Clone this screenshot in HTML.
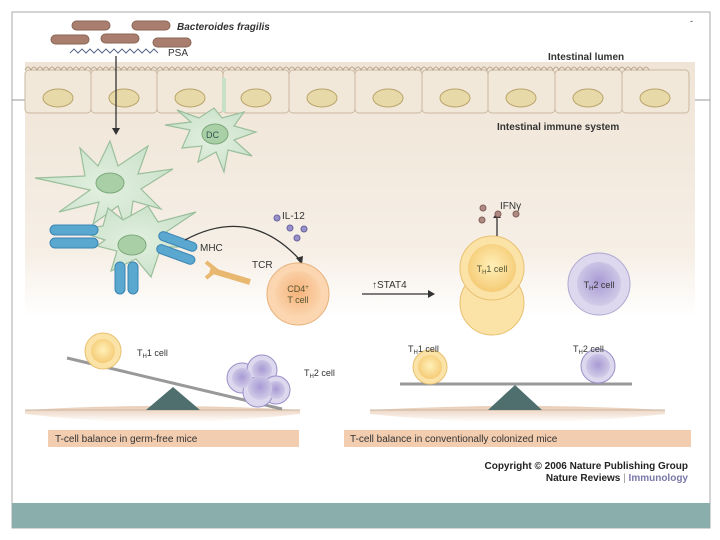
<!DOCTYPE html>
<html><head><meta charset="utf-8"><style>
html,body{margin:0;padding:0;background:#fff;width:720px;height:540px;overflow:hidden}
svg{display:block;font-family:"Liberation Sans",sans-serif}
</style></head><body>
<svg width="720" height="540" viewBox="0 0 720 540" xmlns="http://www.w3.org/2000/svg">
<defs>
<linearGradient id="bg" x1="0" y1="0" x2="0" y2="1">
<stop offset="0" stop-color="#efe4d6"/><stop offset="0.75" stop-color="#f6efe6"/><stop offset="1" stop-color="#ffffff"/>
</linearGradient>
<linearGradient id="gr" x1="0" y1="0" x2="0" y2="1">
<stop offset="0" stop-color="#e8cbb3"/><stop offset="1" stop-color="#ffffff"/>
</linearGradient>
<radialGradient id="y" cx="0.5" cy="0.45" r="0.6"><stop offset="0" stop-color="#fff0b8"/><stop offset="1" stop-color="#f4c870"/></radialGradient>
<radialGradient id="p" cx="0.5" cy="0.45" r="0.6"><stop offset="0" stop-color="#a89ad4"/><stop offset="1" stop-color="#d6d2ea"/></radialGradient>
<radialGradient id="o" cx="0.5" cy="0.45" r="0.6"><stop offset="0" stop-color="#f6b27a"/><stop offset="1" stop-color="#fbd9b4"/></radialGradient>
<radialGradient id="g" cx="0.5" cy="0.5" r="0.6"><stop offset="0" stop-color="#e3f0e0"/><stop offset="1" stop-color="#c7e0c8"/></radialGradient>
</defs>
<rect x="12" y="12" width="698" height="516" fill="#fff" stroke="#aaa" stroke-width="1"/>
<line x1="12" y1="100" x2="26" y2="100" stroke="#999"/><line x1="695" y1="100" x2="710" y2="100" stroke="#999"/>
<rect x="25" y="62" width="670" height="255" fill="url(#bg)"/>
<rect x="12" y="503" width="698" height="25" fill="#8aaeac"/>
<!-- epithelium -->
<g stroke="#c9b8a0" fill="#f2e8da">
<rect x="25" y="70" width="66" height="43" rx="4"/><rect x="91" y="70" width="66" height="43" rx="4"/>
<rect x="157" y="70" width="66" height="43" rx="4"/><rect x="223" y="70" width="66" height="43" rx="4"/>
<rect x="289" y="70" width="66" height="43" rx="4"/><rect x="355" y="70" width="67" height="43" rx="4"/>
<rect x="422" y="70" width="66" height="43" rx="4"/><rect x="488" y="70" width="67" height="43" rx="4"/>
<rect x="555" y="70" width="67" height="43" rx="4"/><rect x="622" y="70" width="67" height="43" rx="4"/>
</g>
<path d="M25 70 q3 -6 6 0 q3 -6 6 0 q3 -6 6 0 q3 -6 6 0 q3 -6 6 0 q3 -6 6 0 q3 -6 6 0 q3 -6 6 0 q3 -6 6 0 q3 -6 6 0 q3 -6 6 0 q3 -6 6 0 q3 -6 6 0 q3 -6 6 0 q3 -6 6 0 q3 -6 6 0 q3 -6 6 0 q3 -6 6 0 q3 -6 6 0 q3 -6 6 0 q3 -6 6 0 q3 -6 6 0 q3 -6 6 0 q3 -6 6 0 q3 -6 6 0 q3 -6 6 0 q3 -6 6 0 q3 -6 6 0 q3 -6 6 0 q3 -6 6 0 q3 -6 6 0 q3 -6 6 0 q3 -6 6 0 q3 -6 6 0 q3 -6 6 0 q3 -6 6 0 q3 -6 6 0 q3 -6 6 0 q3 -6 6 0 q3 -6 6 0 q3 -6 6 0 q3 -6 6 0 q3 -6 6 0 q3 -6 6 0 q3 -6 6 0 q3 -6 6 0 q3 -6 6 0 q3 -6 6 0 q3 -6 6 0 q3 -6 6 0 q3 -6 6 0 q3 -6 6 0 q3 -6 6 0 q3 -6 6 0 q3 -6 6 0 q3 -6 6 0 q3 -6 6 0 q3 -6 6 0 q3 -6 6 0 q3 -6 6 0 q3 -6 6 0 q3 -6 6 0 q3 -6 6 0 q3 -6 6 0 q3 -6 6 0 q3 -6 6 0 q3 -6 6 0 q3 -6 6 0 q3 -6 6 0 q3 -6 6 0 q3 -6 6 0 q3 -6 6 0 q3 -6 6 0 q3 -6 6 0 q3 -6 6 0 q3 -6 6 0 q3 -6 6 0 q3 -6 6 0 q3 -6 6 0 q3 -6 6 0 q3 -6 6 0 q3 -6 6 0 q3 -6 6 0 q3 -6 6 0 q3 -6 6 0 q3 -6 6 0 q3 -6 6 0 q3 -6 6 0 q3 -6 6 0 q3 -6 6 0 q3 -6 6 0 q3 -6 6 0 q3 -6 6 0 q3 -6 6 0 q3 -6 6 0 q3 -6 6 0 q3 -6 6 0 q3 -6 6 0 q3 -6 6 0 q3 -6 6 0 q3 -6 6 0 q3 -6 6 0 q3 -6 6 0 q3 -6 6 0" fill="none" stroke="#b7a58c" stroke-width="1"/>
<g fill="#e8d9a8" stroke="#b9a46c">
<ellipse cx="58" cy="98" rx="15" ry="9"/><ellipse cx="124" cy="98" rx="15" ry="9"/><ellipse cx="190" cy="98" rx="15" ry="9"/>
<ellipse cx="256" cy="98" rx="15" ry="9"/><ellipse cx="322" cy="98" rx="15" ry="9"/><ellipse cx="388" cy="98" rx="15" ry="9"/>
<ellipse cx="455" cy="98" rx="15" ry="9"/><ellipse cx="521" cy="98" rx="15" ry="9"/><ellipse cx="588" cy="98" rx="15" ry="9"/><ellipse cx="655" cy="98" rx="15" ry="9"/>
</g>
<text x="548" y="60" font-size="10" font-weight="bold" fill="#333">Intestinal lumen</text>
<text x="497" y="130" font-size="10" font-weight="bold" fill="#333">Intestinal immune system</text>
<!-- bacteria -->
<g fill="#a97e6e" stroke="#8a6656">
<rect x="72" y="21" width="38" height="9" rx="4.5"/><rect x="132" y="21" width="38" height="9" rx="4.5"/>
<rect x="51" y="35" width="38" height="9" rx="4.5"/><rect x="101" y="34" width="38" height="9" rx="4.5"/><rect x="153" y="38" width="38" height="9" rx="4.5"/>
</g>
<text x="177" y="30" font-size="10" font-weight="bold" font-style="italic" fill="#333">Bacteroides fragilis</text>
<path d="M70 53 l4 -4 l4 4 l4 -4 l4 4 l4 -4 l4 4 l4 -4 l4 4 l4 -4 l4 4 l4 -4 l4 4 l4 -4 l4 4 l4 -4 l4 4 l4 -4 l4 4 l4 -4 l4 4 l4 -4 l4 4" fill="none" stroke="#5a6a8a" stroke-width="1"/>
<text x="168" y="56" font-size="10" fill="#333">PSA</text>
<line x1="116" y1="56" x2="116" y2="128" stroke="#333" stroke-width="1.3"/><path d="M112 128 l4 7 l4 -7z" fill="#333"/>
<!-- DC cells -->
<g fill="url(#g)" stroke="#9bbf9c" stroke-width="1.2">
<line x1="224" y1="78" x2="224" y2="112" stroke="#c7e0c8" stroke-width="4"/>
<path d="M190 130 l-25 -5 l26 -3 l-14 -12 l22 8 l15 -10 l8 10 l22 -6 l-10 14 l22 6 l-22 8 l18 16 l-24 -6 l-4 22 l-8 -20 l-18 10 l4 -16 l-20 2z"/>
<path d="M90 190 l-55 -12 l50 -2 l-5 -28 l18 18 l12 -25 l8 25 l30 -20 l-10 28 l35 -5 l-32 20 l20 20 l-28 -8 l-5 35 l-10 -30 l-25 18 l6 -22 l-40 10z"/>
<path d="M105 240 l-30 -10 l28 -4 l5 -18 l15 12 l25 -14 l10 16 l38 -10 l-30 20 l25 15 l-30 0 l-10 30 l-15 -18 l-25 12 l6 -20 l-20 -5z"/>
</g>
<ellipse cx="215" cy="134" rx="13" ry="10" fill="#a8cfa5" stroke="#7fa97d"/>
<text x="206" y="138" font-size="9" fill="#355">DC</text>
<ellipse cx="110" cy="183" rx="14" ry="10" fill="#a8cfa5" stroke="#7fa97d"/>
<ellipse cx="132" cy="245" rx="14" ry="10" fill="#a8cfa5" stroke="#7fa97d"/>
<!-- MHC blue -->
<g fill="#5aa7d0" stroke="#3a85b3">
<rect x="50" y="225" width="48" height="10" rx="5"/><rect x="50" y="238" width="48" height="10" rx="5"/>
<rect x="158" y="237" width="40" height="9" rx="4.5" transform="rotate(20 178 241)"/><rect x="156" y="250" width="40" height="9" rx="4.5" transform="rotate(20 176 254)"/>
<rect x="115" y="262" width="10" height="32" rx="5"/><rect x="128" y="262" width="10" height="32" rx="5"/>
</g>
<text x="200" y="251" font-size="10" fill="#333">MHC</text>
<path d="M210 270 l40 12" stroke="#e9b870" stroke-width="6"/><path d="M206 262 l10 8 l-10 8" fill="none" stroke="#e9b870" stroke-width="4"/>
<text x="252" y="268" font-size="10" fill="#333">TCR</text>
<path d="M185 240 Q250 205 300 260" fill="none" stroke="#333" stroke-width="1.3"/><path d="M296 258 l6 7 l1 -9z" fill="#333"/>
<text x="282" y="219" font-size="10" fill="#333">IL-12</text>
<g fill="#9890c8" stroke="#6a62a0"><circle cx="277" cy="218" r="3"/><circle cx="290" cy="228" r="3"/><circle cx="304" cy="229" r="3"/><circle cx="297" cy="238" r="3"/></g>
<!-- CD4 T cell -->
<circle cx="298" cy="294" r="31" fill="#fbd6b0" stroke="#e8b07a"/>
<circle cx="298" cy="294" r="23" fill="url(#o)"/>
<text x="298" y="292" font-size="9" fill="#553" text-anchor="middle">CD4<tspan font-size="6" dy="-3">+</tspan></text>
<text x="298" y="303" font-size="9" fill="#553" text-anchor="middle">T cell</text>
<text x="372" y="288" font-size="10" fill="#333">↑STAT4</text>
<line x1="362" y1="294" x2="428" y2="294" stroke="#333" stroke-width="1.2"/><path d="M428 290 l7 4 l-7 4z" fill="#333"/>
<!-- TH1 stack -->
<circle cx="492" cy="303" r="32" fill="#fbe3a8" stroke="#e8c070"/>
<circle cx="492" cy="268" r="32" fill="#fbe3a8" stroke="#e8c070"/>
<circle cx="492" cy="268" r="24" fill="url(#y)"/>
<text x="492" y="272" font-size="9" fill="#553" text-anchor="middle">T<tspan font-size="6" dy="2">H</tspan><tspan dy="-2">1 cell</tspan></text>
<line x1="497" y1="236" x2="497" y2="216" stroke="#333" stroke-width="1.3"/><path d="M493 218 l4 -6 l4 6z" fill="#333"/>
<text x="500" y="209" font-size="10" fill="#333">IFNγ</text>
<g fill="#b08a82" stroke="#806058"><circle cx="483" cy="208" r="3"/><circle cx="498" cy="214" r="3"/><circle cx="482" cy="220" r="3"/><circle cx="516" cy="214" r="3"/></g>
<circle cx="599" cy="284" r="31" fill="#ddd8ee" stroke="#b0a8d0"/>
<circle cx="599" cy="284" r="22" fill="url(#p)"/>
<text x="599" y="288" font-size="9" fill="#333" text-anchor="middle">T<tspan font-size="6" dy="2">H</tspan><tspan dy="-2">2 cell</tspan></text>
<!-- bottom left -->
<path d="M25 410 Q160 402 300 410 L300 414 Q160 430 25 414z" fill="url(#gr)"/>
<line x1="25" y1="410" x2="300" y2="410" stroke="#c9b49f"/>
<path d="M146 410 L173 387 L200 410z" fill="#4f6e6e"/>
<line x1="67" y1="358" x2="282" y2="409" stroke="#999" stroke-width="3"/>
<circle cx="103" cy="351" r="18" fill="#fbe3a8" stroke="#e8c070"/><circle cx="103" cy="351" r="12" fill="url(#y)"/>
<text x="137" y="356" font-size="9" fill="#333">T<tspan font-size="6" dy="2">H</tspan><tspan dy="-2">1 cell</tspan></text>
<g stroke="#9a90c8" fill="#ddd8ee"><circle cx="242" cy="378" r="15"/><circle cx="262" cy="370" r="15"/><circle cx="276" cy="390" r="14"/><circle cx="258" cy="392" r="15"/></g>
<g fill="url(#p)"><circle cx="242" cy="378" r="10"/><circle cx="262" cy="370" r="10"/><circle cx="276" cy="390" r="9"/><circle cx="260" cy="388" r="12"/></g>
<text x="304" y="376" font-size="9" fill="#333">T<tspan font-size="6" dy="2">H</tspan><tspan dy="-2">2 cell</tspan></text>
<!-- bottom right -->
<path d="M370 410 Q520 402 665 410 L665 414 Q520 430 370 414z" fill="url(#gr)"/>
<line x1="370" y1="410" x2="665" y2="410" stroke="#c9b49f"/>
<path d="M488 410 L515 385 L542 410z" fill="#4f6e6e"/>
<line x1="400" y1="384" x2="632" y2="384" stroke="#999" stroke-width="3"/>
<circle cx="430" cy="367" r="17" fill="#fbe3a8" stroke="#e8c070"/><circle cx="430" cy="367" r="12" fill="url(#y)"/>
<circle cx="598" cy="366" r="17" fill="#ddd8ee" stroke="#9a90c8"/><circle cx="598" cy="366" r="12" fill="url(#p)"/>
<text x="408" y="352" font-size="9" fill="#333">T<tspan font-size="6" dy="2">H</tspan><tspan dy="-2">1 cell</tspan></text>
<text x="573" y="352" font-size="9" fill="#333">T<tspan font-size="6" dy="2">H</tspan><tspan dy="-2">2 cell</tspan></text>
<!-- labels -->
<rect x="48" y="430" width="251" height="17" fill="#f2cdb0"/>
<text x="55" y="442" font-size="10" fill="#333">T-cell balance in germ-free mice</text>
<rect x="344" y="430" width="347" height="17" fill="#f2cdb0"/>
<text x="350" y="442" font-size="10" fill="#333">T-cell balance in conventionally colonized mice</text>
<text x="688" y="469" font-size="10" font-weight="bold" fill="#222" text-anchor="end">Copyright © 2006 Nature Publishing Group</text>
<text x="688" y="481" font-size="10" font-weight="bold" fill="#222" text-anchor="end">Nature Reviews <tspan fill="#999" font-weight="normal">|</tspan> <tspan fill="#7a78a8">Immunology</tspan></text>
<text x="690" y="24" font-size="9" fill="#333">-</text>
</svg>
</body></html>
